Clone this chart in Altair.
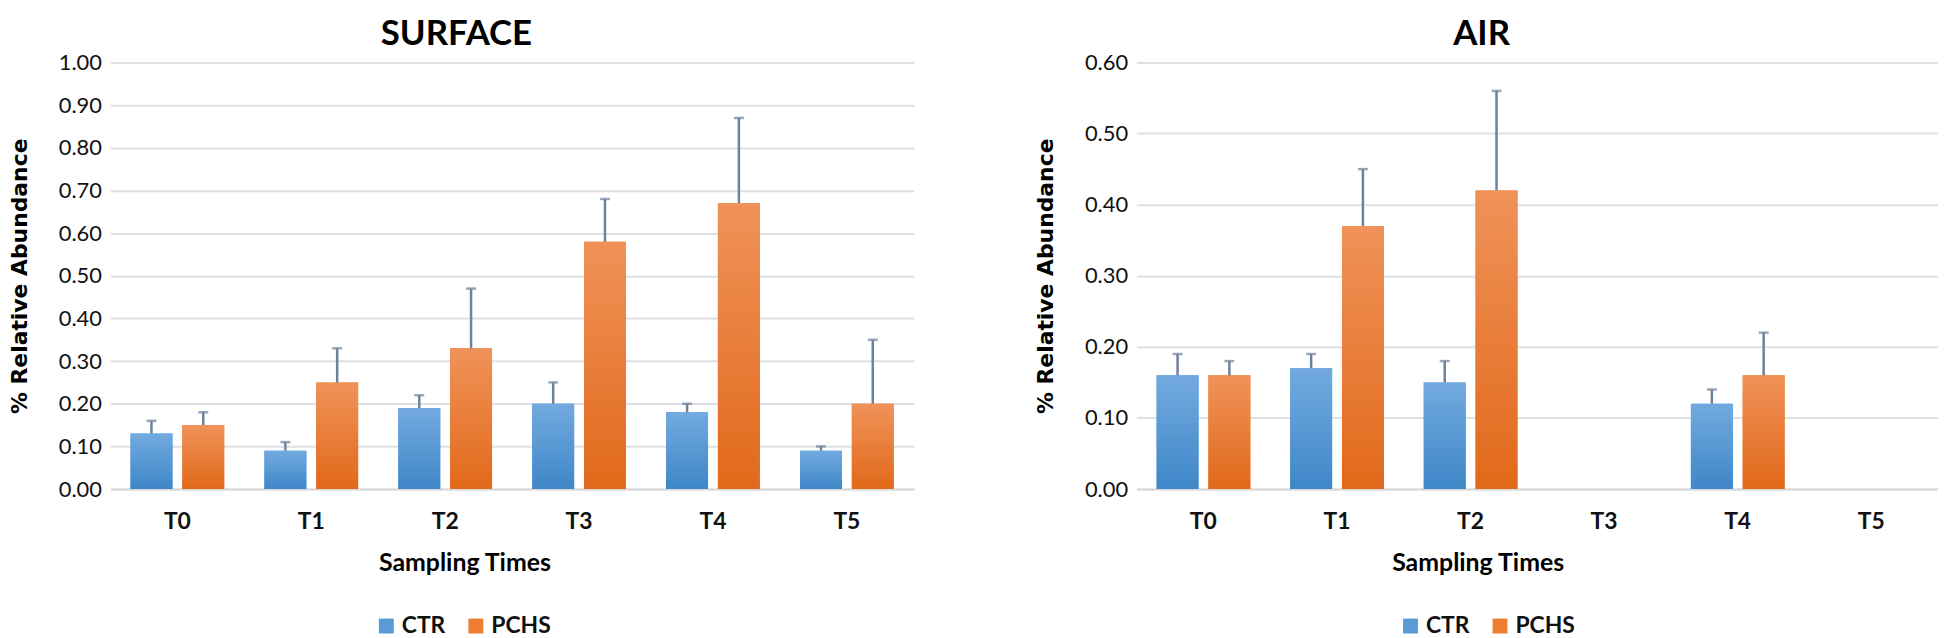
import altair as alt
import pandas as pd

# ---------------- data ----------------
times = ["T0", "T1", "T2", "T3", "T4", "T5"]
series = ["CTR", "PCHS"]

surf_ctr = [0.13, 0.09, 0.19, 0.20, 0.18, 0.09]
surf_ctr_err = [0.03, 0.02, 0.03, 0.05, 0.02, 0.01]
surf_pchs = [0.15, 0.25, 0.33, 0.58, 0.67, 0.20]
surf_pchs_err = [0.03, 0.08, 0.14, 0.10, 0.20, 0.15]

air_ctr = [0.16, 0.17, 0.15, None, 0.12, None]
air_ctr_err = [0.03, 0.02, 0.03, None, 0.02, None]
air_pchs = [0.16, 0.37, 0.42, None, 0.16, None]
air_pchs_err = [0.02, 0.08, 0.14, None, 0.06, None]

surf_ticks = [0.0, 0.1, 0.2, 0.3, 0.4, 0.5, 0.6, 0.7, 0.8, 0.9, 1.0]
air_ticks = [0.0, 0.1, 0.2, 0.3, 0.4, 0.5, 0.6]

# ---------------- styles ----------------
BLUE = "#5b9bd5"
ORANGE = "#ed7d31"
BLUE_TOP, BLUE_BOT = "#72aadf", "#3f87c8"
OR_TOP, OR_BOT = "#f09259", "#e1691a"
ERR = "#6e819b"
GRID = "#dde0e4"
TXT = "#111111"


def make_df(ctr, ctr_err, pchs, pchs_err):
    rows = []
    for i, t in enumerate(times):
        for s, v, e in (("CTR", ctr[i], ctr_err[i]), ("PCHS", pchs[i], pchs_err[i])):
            if v is None:
                continue
            rows.append({"time": t, "series": s, "value": v, "hi": round(v + e, 4)})
    return pd.DataFrame(rows)


def grad(top, bot):
    return alt.Gradient(
        gradient="linear",
        stops=[alt.GradientStop(color=top, offset=0), alt.GradientStop(color=bot, offset=1)],
        x1=0, x2=0, y1=0, y2=1,
    )


def panel(df, title, ticks, width, title_dx, xtitle_x, legend_x):
    x = alt.X(
        "time:N",
        sort=times,
        scale=alt.Scale(domain=times, paddingInner=0.3, paddingOuter=0.15),
        axis=alt.Axis(title="Sampling Times", titleX=xtitle_x),
    )
    xo = alt.XOffset("series:N", scale=alt.Scale(domain=series, paddingInner=0.19, paddingOuter=0))
    y = alt.Y(
        "value:Q",
        scale=alt.Scale(domain=[ticks[0], ticks[-1]], nice=False),
        axis=alt.Axis(title="% Relative Abundance", values=ticks, format=".2f"),
    )
    base = alt.Chart(df)
    legend_bars = base.mark_bar().encode(
        x=x, xOffset=xo, y=y,
        color=alt.Color(
            "series:N",
            scale=alt.Scale(domain=series, range=[BLUE, ORANGE]),
            legend=alt.Legend(
                title=None, orient="none", legendX=legend_x, legendY=555,
                direction="horizontal", symbolType="square", symbolSize=225,
                symbolStrokeWidth=0, labelFont="Lato", labelFontWeight="bold",
                labelFontSize=23, labelColor=TXT, labelOffset=4, columnPadding=19,
                padding=0,
            ),
        ),
    )
    g_ctr = base.transform_filter(alt.datum.series == "CTR").mark_bar(color=grad(BLUE_TOP, BLUE_BOT)).encode(
        x=x, xOffset=xo, y=y)
    g_pchs = base.transform_filter(alt.datum.series == "PCHS").mark_bar(color=grad(OR_TOP, OR_BOT)).encode(
        x=x, xOffset=xo, y=y)
    rules = base.mark_rule(color=ERR, strokeWidth=2.5).encode(
        x=x, xOffset=xo, y="value:Q", y2="hi:Q")
    caps = base.mark_tick(color=ERR, thickness=2.5, size=10).encode(
        x=x, xOffset=xo, y="hi:Q")
    return alt.layer(legend_bars, g_ctr, g_pchs, rules, caps).properties(
        width=width,
        height=429,
        title=alt.TitleParams(
            title, anchor="middle", frame="group", dx=title_dx, offset=0,
            font="Lato", fontSize=35, fontWeight="bold", color="#000000",
        ),
    ).resolve_scale(color="independent")


surf_df = make_df(surf_ctr, surf_ctr_err, surf_pchs, surf_pchs_err)
air_df = make_df(air_ctr, air_ctr_err, air_pchs, air_pchs_err)

surface = panel(surf_df, "SURFACE", surf_ticks, 808, -56, 356, 266)
air = panel(air_df, "AIR", air_ticks, 806, -56, 343, 264)

chart = alt.hconcat(surface, air, spacing=121).resolve_scale(color="independent").properties(
    padding={"top": 7, "left": 0, "right": 0, "bottom": 0}
).configure_view(stroke=None).configure_axisY(
    domain=False, ticks=False, grid=True, gridColor=GRID, gridWidth=2,
    labelFont="Lato", labelFontSize=22, labelColor=TXT, labelPadding=9,
    titleFont="DejaVu Sans", titleFontWeight="bold", titleFontSize=22,
    titleColor="#000000", titlePadding=27,
).configure_axisX(
    domain=True, domainColor="#d9d9d9", domainWidth=2, ticks=False, grid=False,
    labelAngle=0, labelFont="Lato", labelFontWeight="bold", labelFontSize=23,
    labelColor=TXT, labelPadding=22,
    titleFont="Lato", titleFontWeight="bold", titleFontSize=25, titleColor="#000000",
    titlePadding=17,
)

chart.save("out.html", embed_options={"renderer": "svg", "actions": False})
